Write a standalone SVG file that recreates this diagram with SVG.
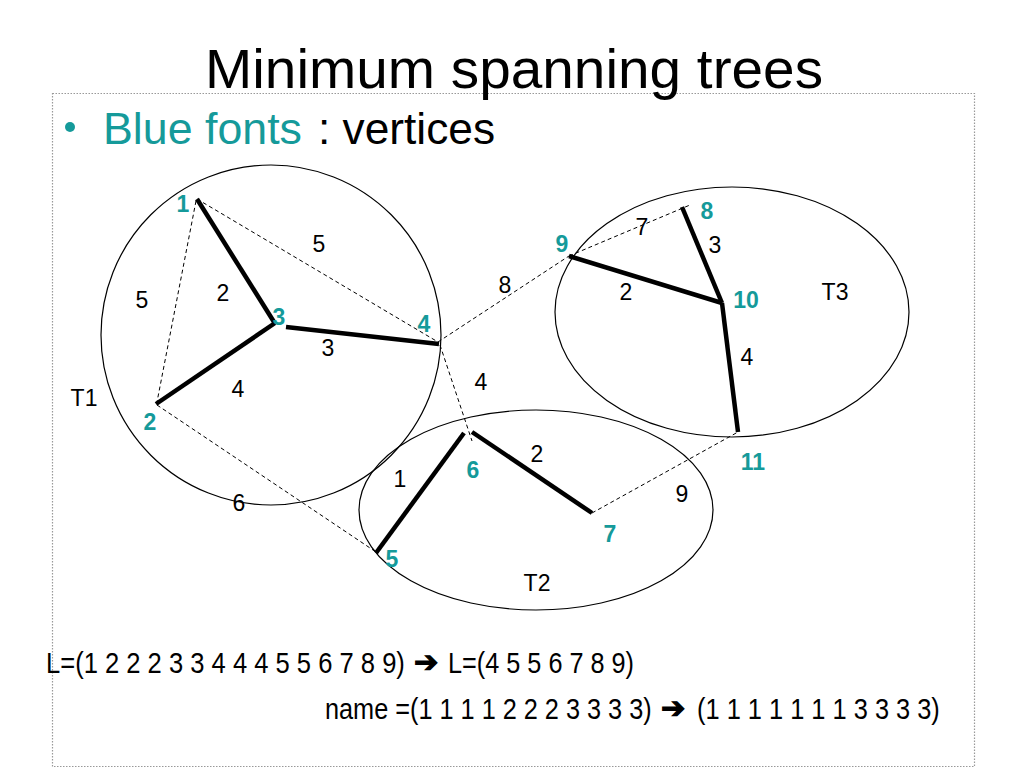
<svg xmlns="http://www.w3.org/2000/svg" width="1024" height="768" viewBox="0 0 1024 768">
<style>
text{font-family:"Liberation Sans",Arial,sans-serif}
.lbl{font-size:23px;fill:#000;text-anchor:middle}
.v{font-size:23px;font-weight:bold;fill:#159a9a;text-anchor:middle}
.bot{font-size:29px;fill:#000}
.arr{font-family:"DejaVu Sans",sans-serif;font-weight:bold;font-size:29px;fill:#000;stroke:#000;stroke-width:1.2}
.tree{fill:none;stroke:#000;stroke-width:1.2}
.mst{stroke:#000;stroke-width:4.5;stroke-linecap:butt}
.non{stroke:#000;stroke-width:1;stroke-dasharray:4,3;fill:none}
.frame{fill:none;stroke:#999;stroke-width:1.2;stroke-dasharray:1.5,1.5}
</style>
<rect width="1024" height="768" fill="#fff"/>
<path class="frame" d="M52.5,93.5 H974.5 V766.5 H52.5 Z"/>
<text x="205" y="88" font-size="56" textLength="618" lengthAdjust="spacingAndGlyphs">Minimum spanning trees</text>
<circle cx="70" cy="127" r="5" fill="#159a9a"/>
<text x="103" y="144" font-size="44" fill="#159a9a" textLength="199" lengthAdjust="spacingAndGlyphs">Blue fonts</text>
<text x="318" y="144" font-size="44" fill="#000" textLength="177" lengthAdjust="spacingAndGlyphs">: vertices</text>

<g id="trees">
<circle id="T1" class="tree" cx="271" cy="335" r="170"/>
<ellipse id="T3" class="tree" cx="732" cy="312" rx="177" ry="125"/>
<ellipse id="T2" class="tree" cx="536" cy="510" rx="177" ry="100"/>
</g>

<g id="connectors">
<line class="non" x1="197" y1="199" x2="438" y2="342"/>
<line class="non" x1="196" y1="201" x2="157" y2="402"/>
<line class="non" x1="157" y1="405" x2="376" y2="552"/>
<line class="non" x1="438" y1="342" x2="569" y2="256"/>
<line class="non" x1="440" y1="345" x2="472" y2="441"/>
<line class="non" x1="569" y1="256" x2="690" y2="205"/>
<line class="non" x1="592" y1="513" x2="738" y2="432"/>
<line class="mst" x1="197" y1="199" x2="274" y2="322"/>
<line class="mst" x1="156" y1="404" x2="275" y2="323"/>
<line class="mst" x1="286" y1="327" x2="439" y2="344"/>
<line class="mst" x1="376" y1="553" x2="464" y2="433"/>
<line class="mst" x1="472" y1="432" x2="592" y2="513"/>
<line class="mst" x1="569" y1="256" x2="722" y2="303"/>
<line class="mst" x1="682" y1="207" x2="722" y2="303"/>
<line class="mst" x1="722" y1="303" x2="738" y2="432"/>
</g>

<g id="edge-labels">
<text class="lbl" x="319" y="252">5</text>
<text class="lbl" x="142" y="308">5</text>
<text class="lbl" x="223" y="301">2</text>
<text class="lbl" x="328" y="356">3</text>
<text class="lbl" x="238" y="397">4</text>
<text class="lbl" x="239" y="511">6</text>
<text class="lbl" x="505" y="293">8</text>
<text class="lbl" x="481" y="390">4</text>
<text class="lbl" x="400" y="487">1</text>
<text class="lbl" x="537" y="462">2</text>
<text class="lbl" x="682" y="502">9</text>
<text class="lbl" x="642" y="235">7</text>
<text class="lbl" x="715" y="253">3</text>
<text class="lbl" x="626" y="300">2</text>
<text class="lbl" x="747" y="365">4</text>
<text class="lbl" x="84" y="406">T1</text>
<text class="lbl" x="537" y="591">T2</text>
<text class="lbl" x="835" y="300">T3</text>
</g>

<g id="node-1"><text class="v" x="183" y="212">1</text></g>
<g id="node-2"><text class="v" x="150" y="430">2</text></g>
<g id="node-3"><text class="v" x="279" y="325">3</text></g>
<g id="node-4"><text class="v" x="424" y="332">4</text></g>
<g id="node-5"><text class="v" x="392" y="567">5</text></g>
<g id="node-6"><text class="v" x="473" y="478">6</text></g>
<g id="node-7"><text class="v" x="610" y="542">7</text></g>
<g id="node-8"><text class="v" x="707" y="219">8</text></g>
<g id="node-9"><text class="v" x="562" y="252">9</text></g>
<g id="node-10"><text class="v" x="746" y="308">10</text></g>
<g id="node-11"><text class="v" x="753" y="470">11</text></g>

<text class="bot" transform="translate(46,673) scale(0.882,1)">L=(1 2 2 2 3 3 4 4 4 5 5 6 7 8 9)</text>
<text class="arr" x="414" y="672">➔</text>
<text class="bot" transform="translate(448,673) scale(0.871,1)">L=(4 5 5 6 7 8 9)</text>
<text class="bot" transform="translate(325,719) scale(0.872,1)">name =(1 1 1 1 2 2 2 3 3 3 3)</text>
<text class="arr" x="661" y="718">➔</text>
<text class="bot" transform="translate(697,719) scale(0.876,1)">(1 1 1 1 1 1 1 3 3 3 3)</text>
</svg>
